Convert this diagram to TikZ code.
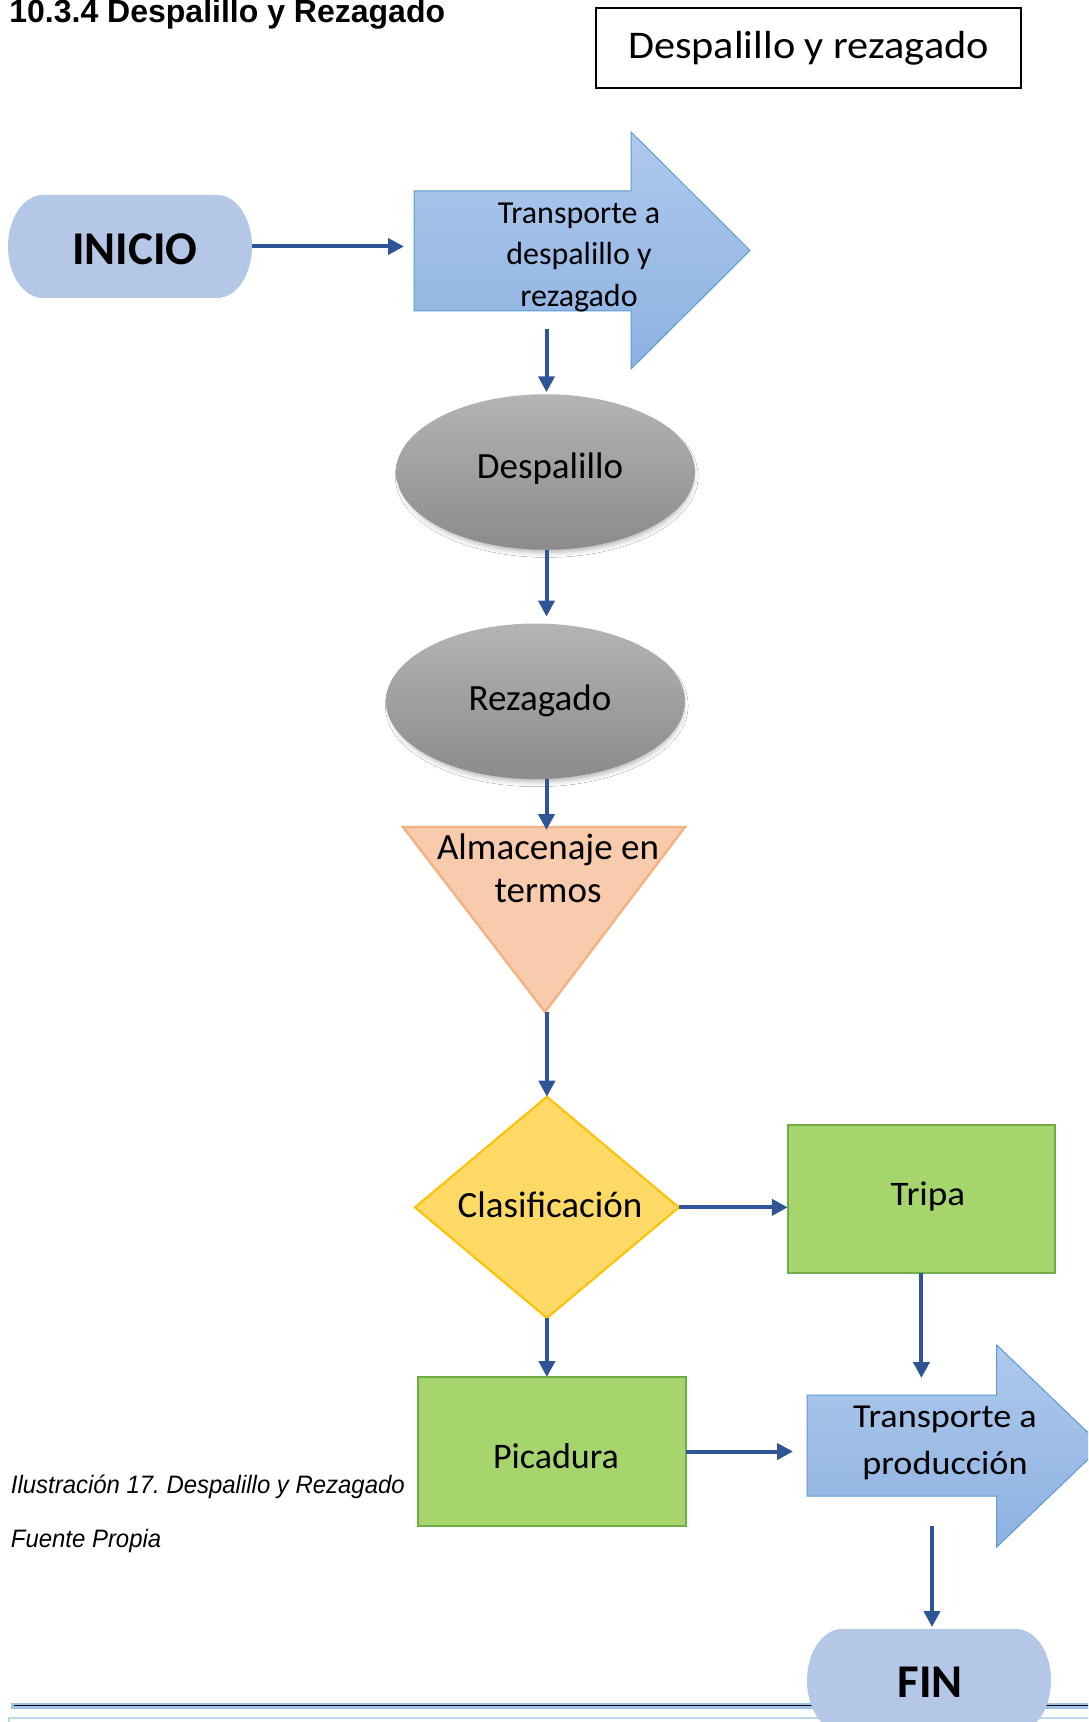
\documentclass[tikz,border=0pt]{standalone}
\usepackage{fontspec}
\setmainfont{Carlito}
\newfontfamily\widecal[FakeStretch=1.08]{Carlito}
\newfontfamily\headfont{Liberation Sans}
\newfontfamily\notefont[FakeStretch=0.95]{Liberation Sans}
\usetikzlibrary{arrows.meta,shapes.geometric,shadows.blur}
\frenchspacing

\definecolor{flowblue}{HTML}{2F5597}
\definecolor{termfill}{HTML}{B4C7E7}
\definecolor{moveA}{HTML}{AEC9EC}
\definecolor{moveB}{HTML}{8DB2E1}
\definecolor{moveline}{HTML}{5B9BD5}
\definecolor{greyA}{HTML}{B4B4B4}
\definecolor{greyB}{HTML}{8B8B8B}
\definecolor{storefill}{HTML}{F8CBAD}
\definecolor{storeline}{HTML}{F4B183}
\definecolor{decfill}{HTML}{FFD966}
\definecolor{decline}{HTML}{FFC000}
\definecolor{leaffill}{HTML}{A5D56C}
\definecolor{leafline}{HTML}{70AD47}
\definecolor{rulelight}{HTML}{9DC3E6}
\definecolor{rulepale}{HTML}{BDD7EE}

% rounded start/end capsule drawn around a named node
\newcommand\drawterminal[1]{%
  \fill[termfill] ([xshift=17.5pt]#1.north west) -- ([xshift=-17.5pt]#1.north east)
    arc[start angle=90,end angle=-90,x radius=17.5pt,y radius=25.75pt]
    -- ([xshift=17.5pt]#1.south west)
    arc[start angle=270,end angle=90,x radius=17.5pt,y radius=25.75pt] -- cycle;}

\begin{document}
\begin{tikzpicture}[x=0.5pt,y=-0.5pt,
  flow/.style={draw=flowblue, line width=2pt, -{Triangle[length=8pt,width=8pt]}},
  holder/.style={rectangle, draw=none, inner sep=0pt, outer sep=0pt},
  procshape/.style={ellipse, inner sep=0pt, outer sep=0pt, top color=greyA, bottom color=greyB,
    draw=none, minimum width=149.5pt, minimum height=77.75pt,
    blur shadow={shadow xshift=0.6pt, shadow yshift=-2.2pt, shadow scale=0.98,
      shadow opacity=30, shadow blur radius=2.5pt}},
  leaf/.style={rectangle, inner sep=0pt, outer sep=0pt, fill=leaffill, draw=leafline, line width=1.2pt},
  movefill/.style={top color=moveA, bottom color=moveB, draw=moveline, line width=0.5pt},
  txt/.style={inner sep=0pt, anchor=base},
  body/.style={font=\fontsize{18.5}{21.75}\selectfont},
]
\useasboundingbox (0,0) rectangle (1088,1722);
\clip (0,0) rectangle (1088,1722);
\fill[white] (0,0) rectangle (1088,1722);

% page rules at the foot
\fill[rulelight] (11,1702.7) rectangle (1090,1708.7);
\draw[black, line width=0.85pt] (14,1705.6) -- (1090,1705.6);
\draw[rulepale, line width=0.7pt] (9,1730) -- (9,1718) -- (1090,1718);

% heading, legend box and caption
\node[anchor=base west, inner sep=0pt, font=\headfont\bfseries\fontsize{16}{19}\selectfont] (title) at (9,23) {10.3.4 Despalillo y Rezagado};
\node[draw=black, line width=0.75pt, minimum width=212.5pt, minimum height=40pt, inner sep=0pt,
  font=\widecal\fontsize{19.6}{23}\selectfont] (legend) at (808.5,48) {Despalillo y rezagado};
\node[anchor=base west, inner sep=0pt, font=\notefont\itshape\fontsize{12.6}{15}\selectfont] (caption) at (10.5,1493) {Ilustración 17. Despalillo y Rezagado};
\node[anchor=base west, inner sep=0pt, font=\notefont\itshape\fontsize{12.6}{15}\selectfont] (source) at (10.5,1547.3) {Fuente Propia};

% shapes
\node[holder, minimum width=122pt, minimum height=51.5pt] (inicio) at (130,246.5) {};
\drawterminal{inicio}

\node[holder, minimum width=108.5pt, minimum height=60pt] (t1) at (522.5,251) {};
\path[movefill] (414,191) -- (631,191) -- (631,132) -- (750,250.5) -- (631,369) -- (631,311) -- (414,311) -- cycle;

\node[procshape] (desp) at (545.5,472) {};
\node[procshape] (rez) at (535.5,701.3) {};

\node[holder, minimum width=141pt, minimum height=92.5pt] (tri) at (544,919.5) {};
\path[fill=storefill, draw=storeline, line width=1.2pt, line join=miter] (tri.north west) -- (tri.north east) -- (545,1012) -- cycle;

\node[holder, minimum width=132pt, minimum height=110.65pt] (dia) at (546.9,1207.35) {};
\path[fill=decfill, draw=decline, line width=1pt] (dia.north) -- (dia.east) -- (dia.south) -- (dia.west) -- cycle;

\node[leaf, minimum width=133.6pt, minimum height=74pt] (tripa) at (921.4,1199) {};
\node[leaf, minimum width=134pt, minimum height=74.5pt] (pic) at (552,1451.5) {};

\node[holder, minimum width=94.85pt, minimum height=50.5pt] (prod) at (901.9,1445.5) {};
\path[movefill] (807,1395) -- (996.7,1395) -- (996.7,1345) -- (1102,1446) -- (996.7,1547) -- (996.7,1496) -- (807,1496) -- cycle;

\node[holder, minimum width=122pt, minimum height=51.5pt] (fin) at (929,1680.5) {};
\drawterminal{fin}

% labels
\node[txt, font=\bfseries\fontsize{23.5}{28}\selectfont] (inicioT) at (135,265) {INICIO};
\node[inner sep=0pt, align=center, font=\fontsize{16}{20.75}\selectfont] (t1T) at (579,257) {Transporte a\\despalillo y\\rezagado};
\node[txt, body] (despT) at (550,478) {Despalillo};
\node[txt, body] (rezT) at (540,710) {Rezagado};
\node[inner sep=0pt, align=center, body] (triT) at (548,868.5) {Almacenaje en\\termos};
\node[txt, body] (diaT) at (550,1217) {Clasificación};
\node[txt, font=\widecal\fontsize{17.2}{20}\selectfont] (tripaT) at (928,1205) {Tripa};
\node[txt, font=\fontsize{18}{21}\selectfont] (picT) at (556,1468) {Picadura};
\node[inner sep=0pt, align=center, font=\widecal\fontsize{16.75}{23.5}\selectfont] (prodT) at (945,1442.5) {Transporte a\\producción};
\node[txt, font=\bfseries\fontsize{23.5}{28}\selectfont] (finT) at (930,1697) {FIN};

% connectors
\coordinate (t1out) at (546.5,329);
\coordinate (prodout) at (932,1526);
\draw[flow, shorten >=5pt] (inicio.east) -- (inicio.east -| t1.west);
\draw[flow, shorten >=1pt] (t1out) -- (t1out |- desp.north);
\draw[flow, shorten >=3.5pt] (desp.south -| t1out) -- (t1out |- rez.north);
\draw[flow, shorten >=-1.5pt] (rez.south -| t1out) -- (t1out |- tri.north);
\draw[flow] (tri.south -| dia.north) -- (dia.north);
\draw[flow] (dia.east) -- (dia.east -| tripa.west);
\draw[flow] (dia.south) -- (dia.south |- pic.north);
\draw[flow, shorten >=8.5pt] (tripa.south) -- (tripa.south |- prod.north);
\draw[flow, shorten >=7pt] (pic.east) -- (pic.east -| prod.west);
\draw[flow, shorten >=1pt] (prodout) -- (prodout |- fin.north);
\end{tikzpicture}
\end{document}
